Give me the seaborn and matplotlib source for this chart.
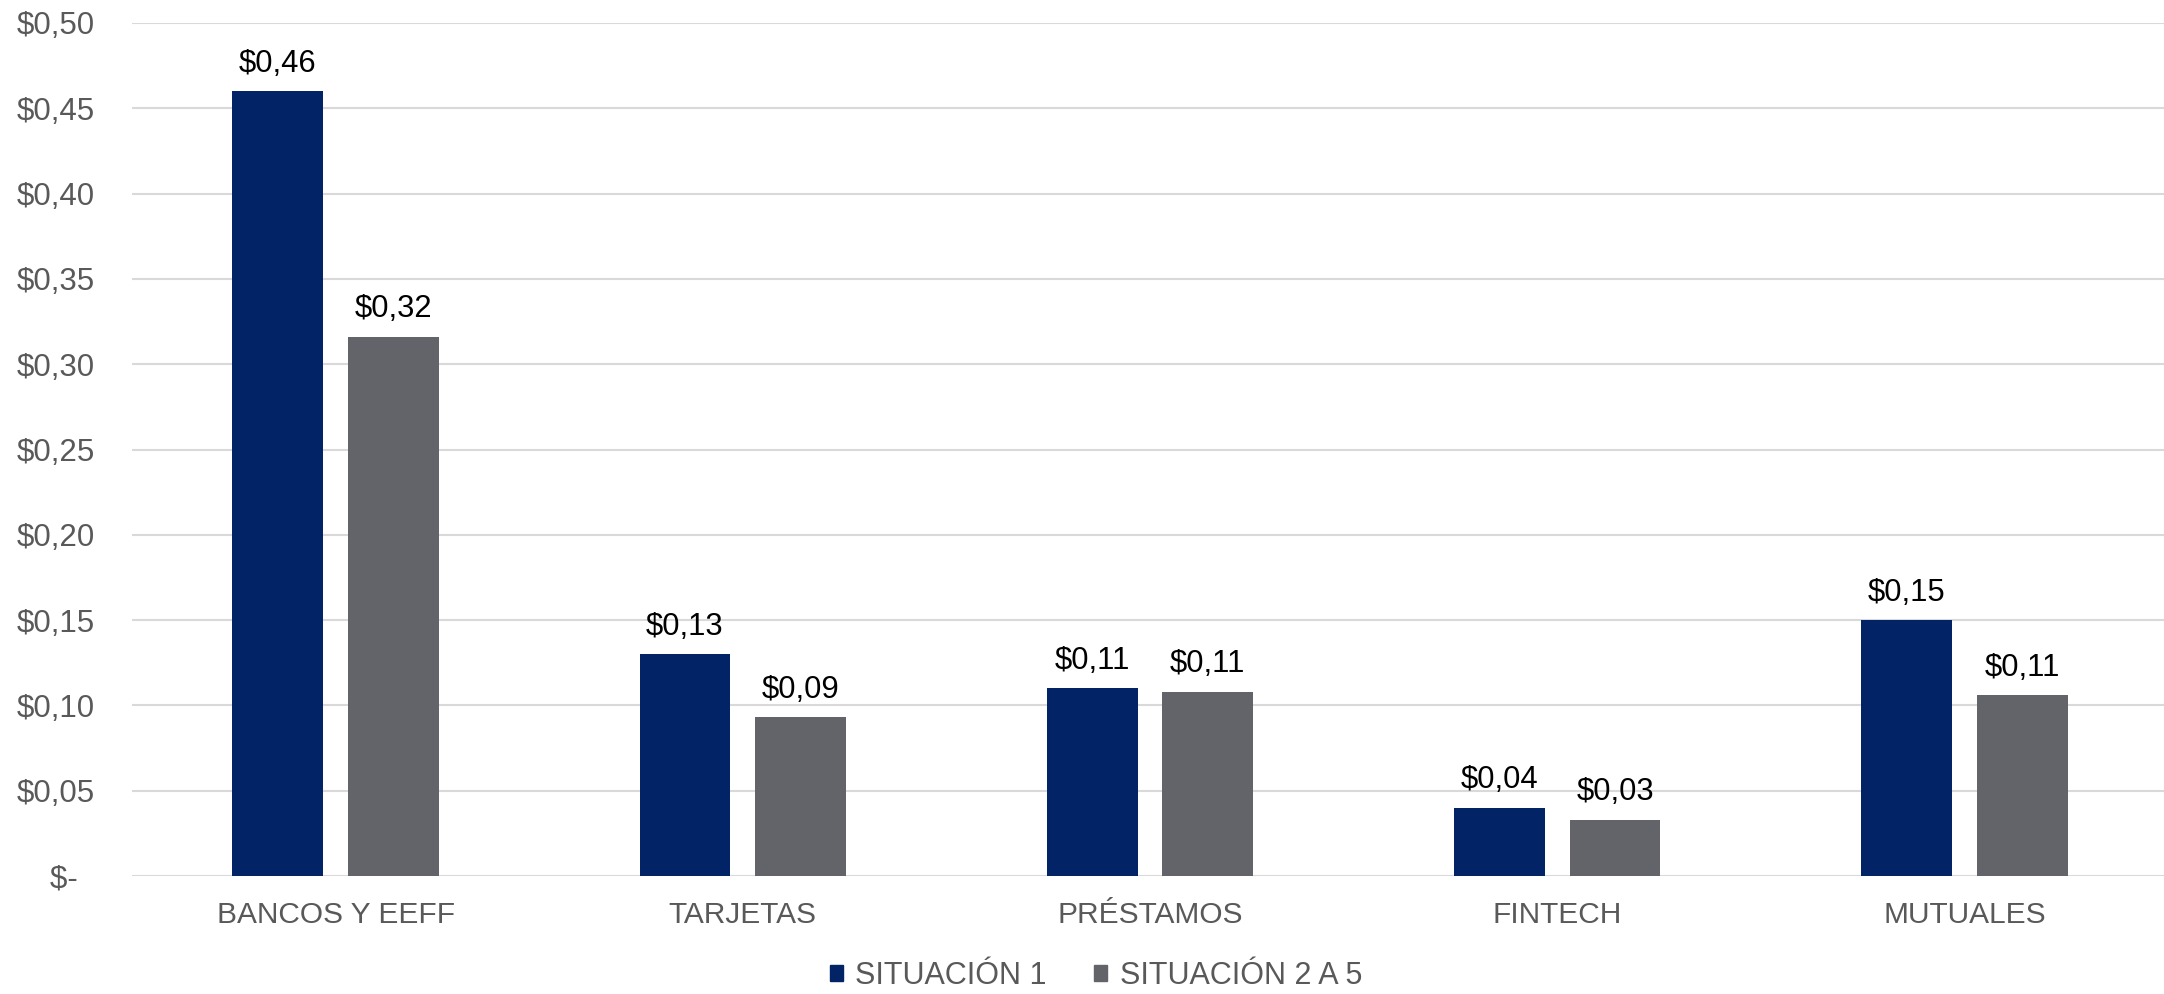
import pandas as pd
import matplotlib.pyplot as plt
import seaborn as sns

# Datos
categorias = ["BANCOS Y EEFF", "TARJETAS", "PRÉSTAMOS", "FINTECH", "MUTUALES"]
situacion_1 = [0.460, 0.130, 0.110, 0.040, 0.150]
situacion_2a5 = [0.316, 0.093, 0.108, 0.033, 0.106]
series = ["SITUACIÓN 1", "SITUACIÓN 2 A 5"]
colores = {"SITUACIÓN 1": "#022366", "SITUACIÓN 2 A 5": "#636469"}
yticks = [0.0, 0.05, 0.10, 0.15, 0.20, 0.25, 0.30, 0.35, 0.40, 0.45, 0.50]

df = pd.DataFrame({
    "Categoria": categorias * 2,
    "Serie": [series[0]] * 5 + [series[1]] * 5,
    "Valor": situacion_1 + situacion_2a5,
})

sns.set_style("white")
plt.rcParams["font.family"] = ["Liberation Sans", "DejaVu Sans"]

fig = plt.figure(figsize=(21.64, 9.94), dpi=100)
ax = fig.add_axes([132 / 2164, 1 - 876 / 994, 1 - 132 / 2164, (876 - 23) / 994])

sns.barplot(data=df, x="Categoria", y="Valor", hue="Serie", palette=colores,
            width=0.568, gap=0.215, linewidth=0, saturation=1, ax=ax, legend=False)


def fmt_peso(v):
    return "$" + f"{v:.2f}".replace(".", ",")


for cont in ax.containers:
    ax.bar_label(cont, labels=[fmt_peso(v) for v in cont.datavalues],
                 padding=9, fontsize=22.3, color="black")

ax.set_ylim(0, 0.5)
ax.set_xlim(-0.5, 4.49)
ax.set_yticks(yticks)
ax.set_yticklabels(["$-  "] + [fmt_peso(v) for v in yticks[1:]])
ax.yaxis.grid(True, color="#d9d9d9", linewidth=1.5)
ax.set_axisbelow(True)
for s in ax.spines.values():
    s.set_visible(False)
ax.tick_params(axis="y", length=0, pad=26.5, labelsize=22.5, labelcolor="#595959")
ax.tick_params(axis="x", length=0, pad=18, labelsize=21.5, labelcolor="#595959")
ax.set_xlabel("")
ax.set_ylabel("")

handles = [plt.Rectangle((0, 0), 1, 1, color=colores[s]) for s in series]
fig.legend(handles, series, loc="center", bbox_to_anchor=(0.5065, 0.0185), ncol=2,
           frameon=False, fontsize=22, labelcolor="#595959",
           handlelength=0.42, handleheight=0.42, handletextpad=0.42,
           columnspacing=1.55, borderpad=0, borderaxespad=0)

fig.savefig("out.png", dpi=100)
